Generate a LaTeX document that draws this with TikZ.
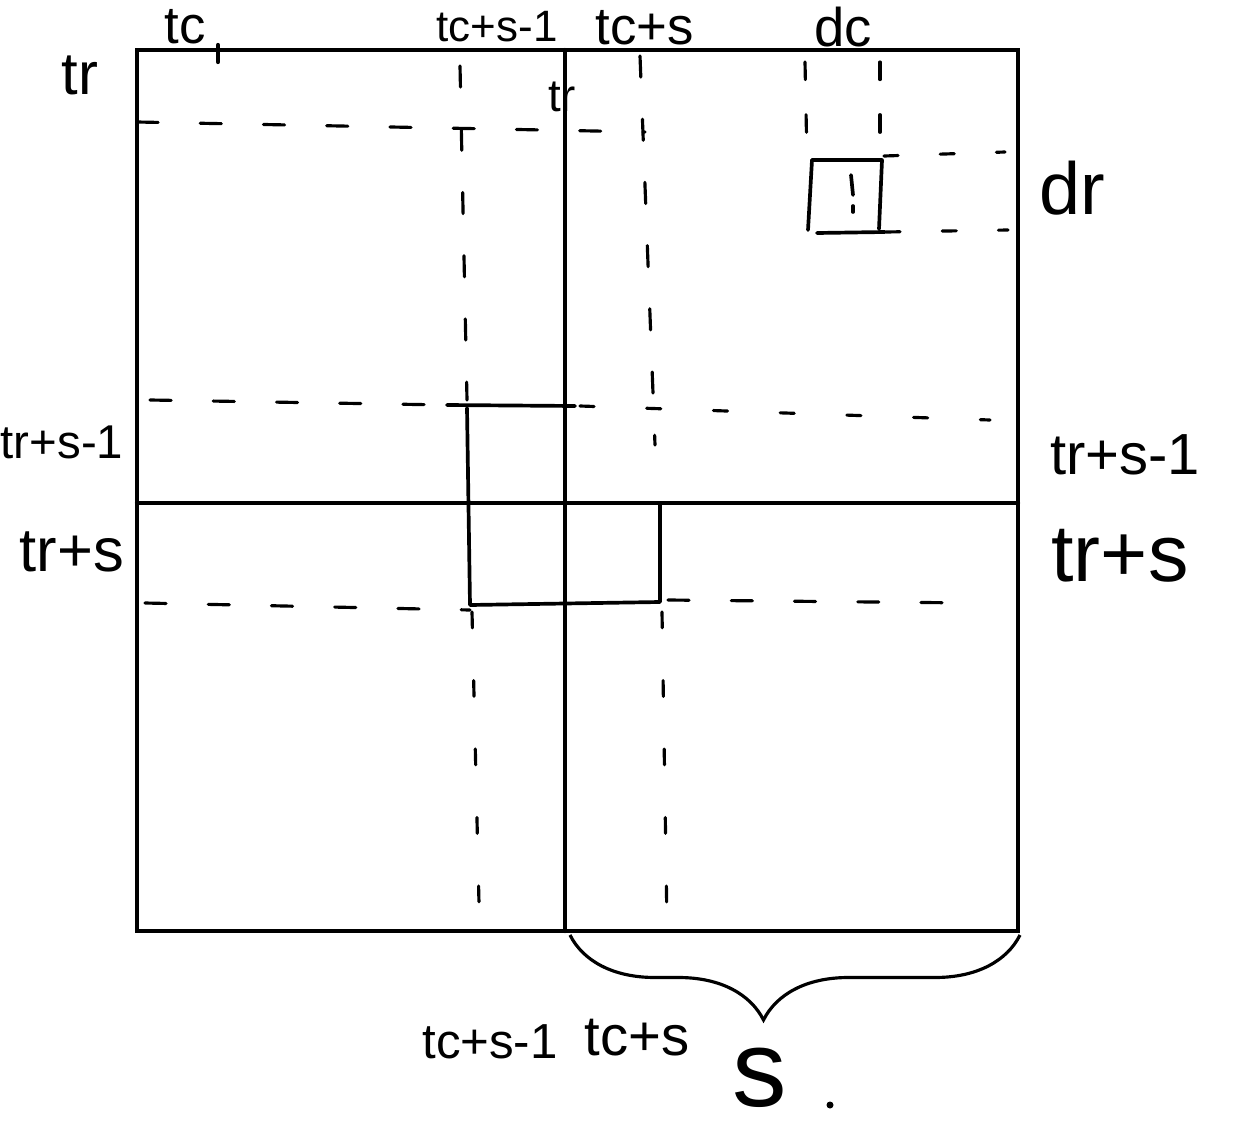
\documentclass[tikz,border=0pt]{standalone}
\usepackage{fontspec}
\setmainfont{Liberation Sans}
\usetikzlibrary{decorations.pathreplacing}
\tikzset{
  frame/.style={line width=2.4pt, line cap=round},
  solidpart/.style={line width=2.1pt, line cap=round, line join=round},
  dashy/.style={line width=1.8pt, line cap=round, dash pattern=on 12pt off 24pt},
  lbl/.style={inner sep=0pt, anchor=center},
}
\newcommand{\fs}[1]{\fontsize{#1}{#1}\selectfont}
\begin{document}
\begin{tikzpicture}[x=0.02cm, y=-0.02cm]
  \useasboundingbox (0,0) rectangle (1250,1132);
  \fill[white] (0,0) rectangle (1250,1132);

  % outer frame and quadrant lines
  \draw[frame] (137,50) rectangle (1018,931);
  \draw[frame] (565,50) -- (565,931);
  \draw[frame] (137,503) -- (1018,503);
  % tick at tc
  \draw[frame] (218,45) -- (218,62);

  % dashed lines in the upper-left area
  \draw[dashy] (137,122) -- (645,132);
  \draw[dashy] (460,66) -- (467,400);
  \draw[dashy] (640,56) -- (655,445);

  % dc / dr dashed lines and small box
  \draw[dashy, dash pattern=on 10pt off 20pt] (805,62) -- (807,160);
  \draw[dashy, dash pattern=on 10pt off 20pt] (880,62) -- (880,152);
  \draw[dashy, dash pattern=on 8pt off 24pt] (884,156) -- (1005,152);
  \draw[dashy, dash pattern=on 8pt off 24pt] (886,232) -- (1008,230);
  \draw[solidpart] (812,160) -- (882,160) -- (879,229);
  \draw[solidpart] (812,160) -- (808,230);
  \draw[solidpart] (817,233) -- (885,232);
  \draw[solidpart] (851,175) -- (853,195);
  \draw[solidpart] (853,206) -- (853,212);

  % row tr+s-1
  \draw[dashy] (150,400) -- (447,405);
  \draw[solidpart] (447,405) -- (575,406);
  \draw[dashy, dash pattern=on 8pt off 30pt] (580,406) -- (990,420);

  % solid block around the centre
  \draw[solidpart] (467,408) -- (470,605) -- (660,602) -- (660,505);

  % row tr+s
  \draw[dashy] (145,603) -- (470,610);
  \draw[dashy] (668,600) -- (975,603);

  % lower columns
  \draw[dashy, dash pattern=on 9pt off 30pt] (472,612) -- (480,945);
  \draw[dashy, dash pattern=on 9pt off 30pt] (662,612) -- (667,925);

  % brace under lower-right block
  \draw[line width=1.8pt, decorate,
        decoration={brace, mirror, amplitude=1.7cm, aspect=0.43}]
        (570,935) -- (1020,935);

  % dot
  \fill (830,1105) circle (3.5);

  % labels
  \node[lbl, font=\fs{30}] (ltc) at (185,27) {tc};
  \node[lbl, font=\fs{25}] (ltcsm) at (497,27) {tc+s-1};
  \node[lbl, font=\fs{30}] (ltcs) at (645,28) {tc+s};
  \node[lbl, font=\fs{31}] (ldc) at (843,27) {dc};
  \node[lbl, font=\fs{34}] (ltr) at (80,75) {tr};
  \node[lbl, font=\fs{26}] (ltrmid) at (562,97) {tr};
  \node[lbl, font=\fs{42}] (ldr) at (1072,188) {dr};
  \node[lbl, font=\fs{27}] (ltrsml) at (62,442) {tr+s-1};
  \node[lbl, font=\fs{33}] (ltrsmr) at (1125,455) {tr+s-1};
  \node[lbl, font=\fs{35}] (ltrsl) at (72,552) {tr+s};
  \node[lbl, font=\fs{46}] (ltrsr) at (1120,556) {tr+s};
  \node[lbl, font=\fs{28}] (lbtcsm) at (490,1042) {tc+s-1};
  \node[lbl, font=\fs{32}] (lbtcs) at (637,1038) {tc+s};
  \node[lbl, font=\fs{62}] (ls) at (760,1078) {s};
\end{tikzpicture}
\end{document}
